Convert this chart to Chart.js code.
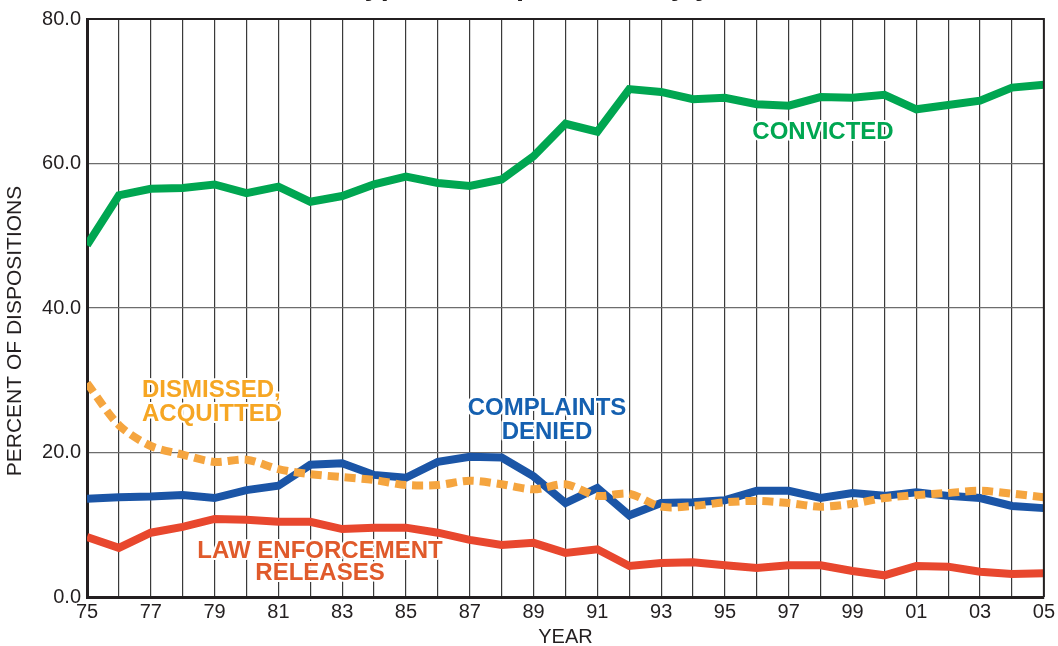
<!DOCTYPE html>
<html>
<head>
<meta charset="utf-8">
<script src="https://cdn.jsdelivr.net/npm/chart.js@4.4.1/dist/chart.umd.min.js"></script>
<style>
html,body{margin:0;padding:0;background:#fff;}
#wrap{width:1058px;height:646px;position:relative;}
</style>
</head>
<body>
<div id="wrap"><canvas id="c" width="1058" height="646"></canvas></div>
<script>
const years = [1975,1976,1977,1978,1979,1980,1981,1982,1983,1984,1985,1986,1987,1988,1989,1990,1991,1992,1993,1994,1995,1996,1997,1998,1999,2000,2001,2002,2003,2004,2005];
const convicted = [48.7,55.6,56.5,56.6,57.1,55.9,56.8,54.7,55.5,57.1,58.2,57.3,56.9,57.8,61.0,65.5,64.4,70.3,69.9,68.9,69.1,68.2,68.0,69.2,69.1,69.5,67.5,68.1,68.7,70.5,70.9];
const complaintsDenied = [13.6,13.8,13.9,14.1,13.7,14.8,15.4,18.3,18.5,16.9,16.5,18.7,19.4,19.3,16.7,13.0,15.1,11.3,13.0,13.1,13.4,14.7,14.7,13.7,14.4,14.0,14.5,14.0,13.7,12.6,12.3];
const dismissedAcquitted = [29.6,23.8,20.9,19.7,18.7,19.0,17.7,17.0,16.6,16.2,15.5,15.5,16.1,15.6,14.9,15.6,14.0,14.3,12.5,12.6,13.1,13.3,13.0,12.5,12.9,13.7,14.1,14.4,14.7,14.3,13.8];
const lawEnforcementReleases = [8.3,6.8,8.9,9.7,10.8,10.7,10.4,10.4,9.4,9.6,9.6,8.9,7.9,7.2,7.5,6.1,6.6,4.3,4.7,4.8,4.4,4.0,4.4,4.4,3.6,3.0,4.3,4.2,3.5,3.2,3.3];
const yTicks = [0,20,40,60,80];
const titleText = "Types of dispositions by year";
const yTitle = "PERCENT OF DISPOSITIONS";

const FONT = "'Liberation Sans', Arial, sans-serif";
const pts = arr => years.map((y,i)=>({x:y,y:arr[i]}));

const labelsPlugin = {
  id:'labels',
  afterDraw(chart){
    const ctx = chart.ctx;
    const a = chart.chartArea;
    ctx.save();
    // top & right frame
    ctx.strokeStyle = '#231f20';
    ctx.lineWidth = 2;
    ctx.beginPath();
    ctx.moveTo(a.left, a.top); ctx.lineTo(a.right, a.top); ctx.lineTo(a.right, a.bottom);
    ctx.stroke();
    // partially visible (cut-off) title
    ctx.font = "bold 29px " + FONT;
    ctx.fillStyle = '#231f20';
    ctx.textAlign = 'left';
    ctx.textBaseline = 'alphabetic';
    ctx.fillText(titleText, 349, -5);
    // y axis title
    ctx.save();
    ctx.translate(15, 331);
    ctx.rotate(-Math.PI/2);
    ctx.font = "21px " + FONT;
    ctx.textAlign = 'center';
    ctx.textBaseline = 'middle';
    ctx.fillStyle = '#231f20';
    ctx.fillText(yTitle, 0, 0);
    ctx.restore();
    // series labels
    const draw = (lines, x, y, color, align, lh) => {
      ctx.font = "bold 24px " + FONT;
      ctx.textAlign = align;
      ctx.textBaseline = 'middle';
      lines.forEach((t,i)=>{
        ctx.lineWidth = 4; ctx.strokeStyle = '#fff'; ctx.lineJoin='round';
        ctx.strokeText(t, x, y + i*lh);
        ctx.fillStyle = color;
        ctx.fillText(t, x, y + i*lh);
      });
    };
    draw(['CONVICTED'], 823, 132, '#00a651', 'center', 24);
    draw(['COMPLAINTS','DENIED'], 547, 408, '#1560b0', 'center', 24);
    draw(['DISMISSED,','ACQUITTED'], 142, 390, '#f6a623', 'left', 24);
    draw(['LAW ENFORCEMENT','RELEASES'], 320, 551, '#e05a2b', 'center', 22);
    ctx.restore();
  }
};

new Chart(document.getElementById('c'), {
  type:'line',
  data:{
    datasets:[
      {label:'Law enforcement releases', data:pts(lawEnforcementReleases), borderColor:'#e8472e', borderWidth:8, pointRadius:0, tension:0, order:4},
      {label:'Complaints denied', data:pts(complaintsDenied), borderColor:'#1b55a6', borderWidth:8, pointRadius:0, tension:0, order:3},
      {label:'Dismissed, acquitted', data:pts(dismissedAcquitted), borderColor:'#f5a53f', borderWidth:8, borderDash:[11,6], pointRadius:0, tension:0.3, order:2},
      {label:'Convicted', data:pts(convicted), borderColor:'#00a651', borderWidth:8, pointRadius:0, tension:0, order:1}
    ]
  },
  options:{
    responsive:false,
    animation:false,
    layout:{padding:{left:0,top:19,right:11,bottom:0}},
    plugins:{legend:{display:false}, tooltip:{enabled:false}, title:{display:false}},
    scales:{
      x:{
        type:'linear', min:1975, max:2005,
        afterFit(s){ s.height = 49; },
        afterBuildTicks(s){ s.ticks = years.map(v=>({value:v})); },
        ticks:{autoSkip:false, maxRotation:0, padding:3, color:'#231f20', font:{family:FONT,size:20},
          callback:(v)=> (v%2===1) ? String(v).slice(2) : ''},
        grid:{color:'#3a3a3a', lineWidth:1.2, drawTicks:false},
        border:{display:true, color:'#231f20', width:3},
        title:{display:true, text:'YEAR', color:'#231f20', font:{family:FONT,size:20}, padding:{top:0,bottom:-3}}
      },
      y:{
        min:0, max:80,
        afterFit(s){ s.width = 87; },
        afterBuildTicks(s){ s.ticks = yTicks.map(v=>({value:v})); },
        ticks:{padding:6, color:'#231f20', font:{family:FONT,size:20}, callback:(v)=>Number(v).toFixed(1)},
        grid:{color:'#6d6d6d', lineWidth:1.2, drawTicks:false},
        border:{display:true, color:'#231f20', width:3},
        title:{display:false}
      }
    }
  },
  plugins:[labelsPlugin]
});
</script>
</body>
</html>
